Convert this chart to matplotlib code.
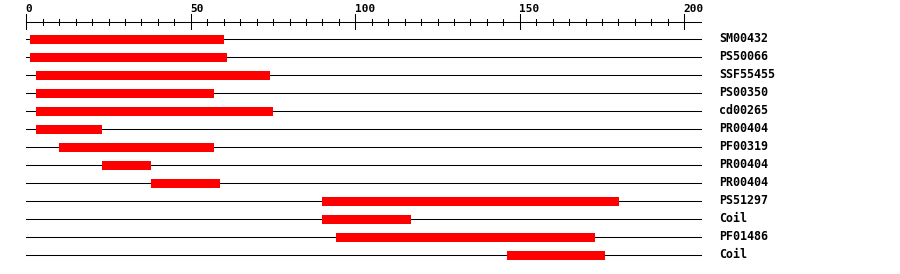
import numpy as np
import matplotlib.pyplot as plt

# ---------- Data ----------
labels = ["SM00432", "PS50066", "SSF55455", "PS00350", "cd00265", "PR00404",
          "PF00319", "PR00404", "PR00404", "PS51297", "Coil", "PF01486", "Coil"]
starts = [1, 1, 3, 3, 3, 3, 10, 23, 38, 90, 90, 94, 146]
ends = [60, 61, 74, 57, 75, 23, 57, 38, 59, 180, 117, 173, 176]
ruler_labels = [0, 50, 100, 150, 200]
seq_len = 205

# ---------- Figure (pixel-like y coords) ----------
fig = plt.figure(figsize=(9, 2.74), dpi=100)
ax = fig.add_axes([0, 0, 1, 1])
px = 3.29                      # pixels per residue
x0 = 26.3                      # pixel of residue 0
ax.set_xlim(-x0 / px, (900 - x0) / px)
ax.set_ylim(274, 0)
ax.axis("off")

lw = 0.75

# ruler
ruler_y = 21.5
ax.plot([0, seq_len], [ruler_y, ruler_y], color="black", lw=lw)
for t in range(0, 201, 5):
    if t % 50 == 0:
        ax.plot([t, t], [13.5, 28.5], color="black", lw=lw)
    else:
        ax.plot([t, t], [18.5, 24.5], color="black", lw=lw)
for t in ruler_labels:
    ax.text(t - 0.2, 12.5, str(t), ha="left", va="baseline",
            family="DejaVu Sans Mono", fontweight="bold", fontsize=8)

# ---------- Rows ----------
for i, (lab, s, e) in enumerate(zip(labels, starts, ends)):
    y = 39 + 18 * i
    ax.plot([0, seq_len], [y, y], color="black", lw=lw, zorder=1)
    ax.barh(y, e - s, left=s, height=9, color="#ff0000", zorder=2)
    ax.text((719 - x0) / px, y + 3.5, lab, ha="left", va="baseline",
            family="DejaVu Sans Mono", fontweight="bold", fontsize=8.4)

fig.savefig("out.png", dpi=100)
